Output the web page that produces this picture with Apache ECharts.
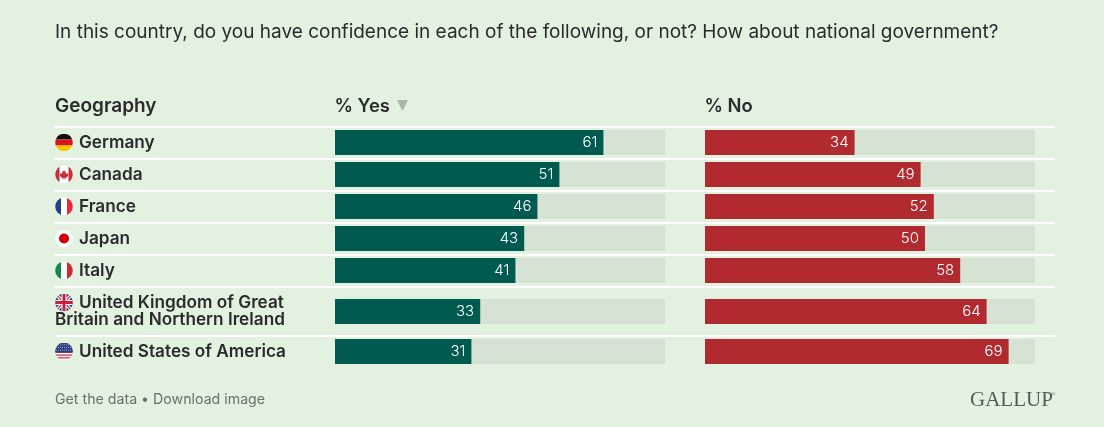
<!DOCTYPE html>
<html><head><meta charset="utf-8">
<style>html,body{margin:0;padding:0;background:#e3f1e1}#c{width:1104px;height:427px}</style>
<script src="https://cdn.jsdelivr.net/npm/echarts@6/dist/echarts.min.js"></script>
</head><body><div id="c"></div>
<script>
const categories = ['Germany','Canada','France','Japan','Italy','United Kingdom of Great\nBritain and Northern Ireland','United States of America'];
const yesValues = [61,51,46,43,41,33,31];
const noValues = [34,49,52,50,58,64,69];
const flagKeys = ['de','ca','fr','jp','it','uk','us'];
const questionText = 'In this country, do you have confidence in each of the following, or not? How about national government?';
const footerText = 'Get the data \u2022 Download image';

const FONT = 'Inter, "Noto Sans", sans-serif';
const svg = inner => 'data:image/svg+xml;charset=utf-8,' + encodeURIComponent(
  '<svg xmlns="http://www.w3.org/2000/svg" width="54" height="54" viewBox="0 0 18 18"><defs><clipPath id="k"><circle cx="9" cy="9" r="8.8"/></clipPath></defs><g clip-path="url(#k)">' + inner + '</g></svg>');
const flags = {
  de: svg('<rect width="18" height="6" fill="#111"/><rect y="6" width="18" height="6" fill="#d8141c"/><rect y="12" width="18" height="6" fill="#fbc500"/>'),
  ca: svg('<rect width="18" height="18" fill="#fff"/><rect width="4.5" height="18" fill="#c8313a"/><rect x="13.5" width="4.5" height="18" fill="#c8313a"/><path d="M9 4.5l1 1.8 1-.4-.4 2.4 1.4-.8.4 1 1.1-.1-.5 1.6.5.4-2.5 1.6.2 1-2-.3v1.8h-.4v-1.8l-2 .3.2-1-2.5-1.6.5-.4-.5-1.6 1.1.1.4-1 1.4.8-.4-2.4 1 .4z" fill="#c8313a"/>'),
  fr: svg('<rect width="6" height="18" fill="#1f3f94"/><rect x="6" width="6" height="18" fill="#fff"/><rect x="12" width="6" height="18" fill="#e8283c"/>'),
  jp: svg('<rect width="18" height="18" fill="#fff"/><circle cx="9" cy="9" r="5" fill="#d30000"/>'),
  it: svg('<rect width="6" height="18" fill="#118a4a"/><rect x="6" width="6" height="18" fill="#fff"/><rect x="12" width="6" height="18" fill="#cf2b37"/>'),
  uk: svg('<rect width="18" height="18" fill="#2a3a78"/><path d="M0 0L18 18M18 0L0 18" stroke="#fff" stroke-width="3.4"/><path d="M0 0L18 18M18 0L0 18" stroke="#c8203a" stroke-width="1.1"/><path d="M9 0V18M0 9H18" stroke="#fff" stroke-width="5"/><path d="M9 0V18M0 9H18" stroke="#c8203a" stroke-width="3"/>'),
  us: svg('<rect width="18" height="18" fill="#fff"/><path d="M0 1.4H18M0 4.2H18M0 7H18M0 9.8H18M0 12.6H18M0 15.4H18" stroke="#c8303c" stroke-width="1.4"/><rect width="18" height="9.8" fill="#2f3f7f"/><path d="M1 2.4H17M1 5H17M1 7.6H17" stroke="#aab4d6" stroke-width=".9" stroke-dasharray="1 1"/>')
};

const richStyles = {
  name: {fontFamily: FONT, fontSize: 17.2, fontWeight: 600, color: '#2a2c2b', lineHeight: 16, padding: [0,0,0,6]},
  line2: {fontFamily: FONT, fontSize: 17.2, fontWeight: 600, color: '#2a2c2b', lineHeight: 16}
};
flagKeys.forEach(k => { richStyles[k] = {width: 18, height: 18, backgroundColor: {image: flags[k]}}; });

const rowGroups = [
  {start: 0, end: 5, top: 126.5, height: 160, labelPad: 0},
  {start: 5, end: 6, top: 287.5, height: 48, labelPad: 2},
  {start: 6, end: 7, top: 335.5, height: 32, labelPad: 0}
];
const columns = [
  {left: 335, values: yesValues, color: '#005a50', labels: true},
  {left: 705, values: noValues, color: '#b02a30', labels: false}
];

const grid = [], xAxis = [], yAxis = [], series = [];
columns.forEach(col => rowGroups.forEach(g => {
  const idx = grid.length;
  grid.push({left: col.left, top: g.top, width: 330, height: g.height, containLabel: false});
  xAxis.push({type: 'value', gridIndex: idx, min: 0, max: 75, show: false});
  yAxis.push({
    type: 'category', gridIndex: idx, inverse: true,
    data: categories.slice(g.start, g.end),
    axisLine: {show: false}, axisTick: {show: false},
    axisLabel: col.labels ? {
      show: true, margin: 280, align: 'left', interval: 0, rich: richStyles,
      padding: [0, 0, g.labelPad, 0],
      formatter: v => {
        const i = categories.indexOf(v);
        const parts = v.split('\n');
        return '{' + flagKeys[i] + '|}{name|' + parts[0] + '}' + (parts[1] ? '\n{line2|' + parts[1] + '}' : '');
      }
    } : {show: false}
  });
  series.push({
    type: 'bar', xAxisIndex: idx, yAxisIndex: idx, barWidth: 25,
    data: col.values.slice(g.start, g.end),
    itemStyle: {color: col.color},
    showBackground: true, backgroundStyle: {color: '#d6e2d4'},
    label: {show: true, position: 'insideRight', distance: 6, color: '#fff', fontFamily: FONT, fontSize: 15, fontWeight: 300},
    silent: true
  });
}));

const lineYs = [126, 158, 190, 222, 254, 286, 335];
const graphic = lineYs.map(y => ({
  type: 'rect', shape: {x: 55, y: y, width: 1000, height: 2}, style: {fill: '#ffffff'}, silent: true
}));
const txt = (x, y, text, font, fill, extra) => ({type: 'text', x, y, silent: true,
  style: Object.assign({text, font, fill, textVerticalAlign: 'middle'}, extra || {})});
graphic.push(
  txt(55, 32, questionText, '400 19px ' + FONT, '#2a2c2b'),
  txt(55, 106, 'Geography', '600 19px ' + FONT, '#2a2c2b'),
  txt(334.5, 106, '% Yes', '600 18.4px ' + FONT, '#2a2c2b'),
  txt(704.5, 106, '% No', '600 18.4px ' + FONT, '#2a2c2b'),
  {type: 'polygon', silent: true, shape: {points: [[397,100],[408,100],[402.5,111]]}, style: {fill: '#a9b5a9'}},
  txt(55, 400, footerText, '400 14.2px ' + FONT, '#6a706b'),
  txt(970, 400, 'GALLUP', '400 21px "Liberation Serif", serif', '#545c58'),
  txt(1051, 394, '\u00ae', '400 6px "Liberation Serif", serif', '#545c58')
);

const chart = echarts.init(document.getElementById('c'), null, {renderer: 'canvas'});
chart.setOption({backgroundColor: '#e3f1e1', animation: false, grid, xAxis, yAxis, series, graphic});
</script></body></html>
